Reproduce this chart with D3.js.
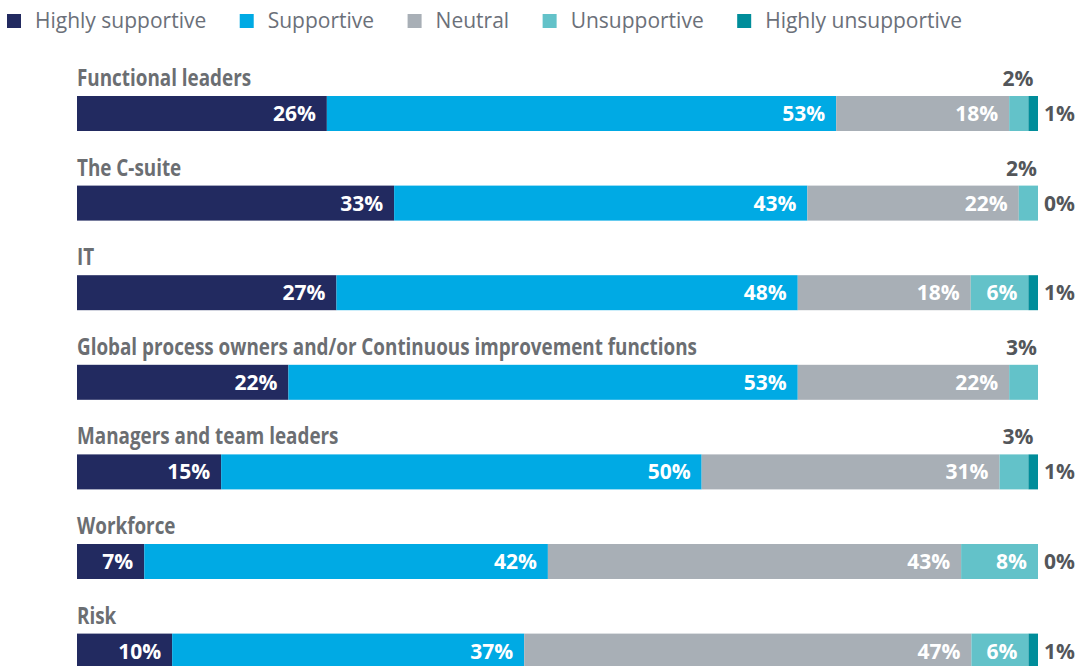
<html>
<head>
<style>
  body { margin: 0; background: #fff; }
  text { font-family: "Open Sans", sans-serif; }
  .cat { font-weight: 700; fill: #6b6e72; font-size: 23px; }
  .lbl-in { font-weight: 700; fill: #fff; font-size: 21px; }
  .lbl-out { font-weight: 700; fill: #53565a; font-size: 21px; }
  .leg { fill: #6b7079; font-size: 21px; }
</style>
</head>
<body>
<svg id="chart" width="1078" height="666"></svg>
<script src="https://cdn.jsdelivr.net/npm/d3@7"></script>
<script>
  // data
  let categories = ["Functional leaders", "The C-suite", "IT",
    "Global process owners and/or Continuous improvement functions",
    "Managers and team leaders", "Workforce", "Risk"]
  let seriesNames = ["Highly supportive", "Supportive", "Neutral", "Unsupportive", "Highly unsupportive"]
  let highlySupportive = [26, 33, 27, 22, 15, 7, 10]
  let supportive = [53, 43, 48, 53, 50, 42, 37]
  let neutral = [18, 22, 18, 22, 31, 43, 47]
  let unsupportive = [2, 2, 6, 3, 3, 8, 6]
  let highlyUnsupportive = [1, 0, 1, null, 1, 0, 1] // no label shown for the global process row
  let colors = ["#222a60", "#00aae4", "#a8afb6", "#63c2c9", "#008d9a"]

  let svg = d3.select("#chart")
  let left = 77, right = 1038
  let barH = 35

  let rows = categories.map((c, i) => ({
    cat: c,
    values: [highlySupportive[i], supportive[i], neutral[i], unsupportive[i], highlyUnsupportive[i]]
  }))

  // legend - laid out one after the other
  let leg = svg.append("g")
  let lx = 7
  seriesNames.forEach((s, i) => {
    leg.append("rect").attr("x", lx).attr("y", 14).attr("width", 14).attr("height", 14).attr("fill", colors[i])
    let t = leg.append("text").attr("class", "leg").attr("x", lx + 28).attr("y", 28).text(s)
    lx = lx + 28 + t.node().getComputedTextLength() + 33.5
  })

  let y = d3.scaleBand().domain(categories).range([51, 51 + 7 * 89.6]).padding(0)

  rows.forEach(r => {
    let total = d3.sum(r.values)
    let x = d3.scaleLinear().domain([0, total]).range([left, right])
    let g = svg.append("g").attr("transform", "translate(0," + y(r.cat) + ")")

    // category title, condensed by squeezing horizontally
    g.append("text").attr("class", "cat")
      .attr("transform", "translate(" + left + ",35) scale(0.82,1)")
      .text(r.cat)

    let cum = 0
    r.values.forEach((v, j) => {
      if (v == null) return
      let x0 = x(cum), x1 = x(cum + v)
      cum += v
      g.append("rect").attr("x", x0).attr("y", 45).attr("width", Math.max(0, x1 - x0)).attr("height", barH)
        .attr("fill", colors[j])
      if (j == 4) {
        g.append("text").attr("class", "lbl-out").attr("x", right + 6).attr("y", 45 + 25).text(v + "%")
      } else if (v < 5) {
        g.append("text").attr("class", "lbl-out").attr("text-anchor", "end")
          .attr("x", Math.min(x1 + 5, right - 1)).attr("y", 35).text(v + "%")
      } else {
        g.append("text").attr("class", "lbl-in").attr("text-anchor", "end")
          .attr("x", x1 - 11).attr("y", 45 + 25).text(v + "%")
      }
    })
  })
</script>
</body>
</html>
